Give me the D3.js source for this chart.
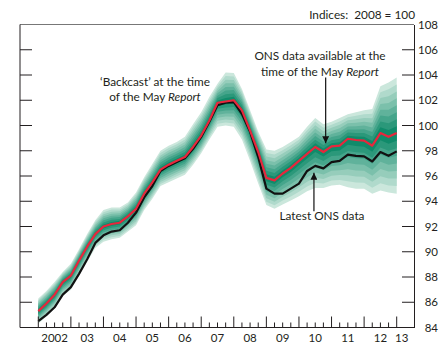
<!DOCTYPE html>
<html>
<head>
<meta charset="utf-8">
<script src="https://cdn.jsdelivr.net/npm/d3@7"></script>
<style>
  body { margin: 0; background: #fff; }
  svg { display: block; font-family: "Lato", "Open Sans", sans-serif; }
  .note { font-size: 11.8px; fill: #231f20; }
  .tick-label { font-size: 11.5px; fill: #231f20; }
</style>
</head>
<body>
<svg id="chart"></svg>
<script>
// quarterly data, 2002 Q1 to 2013 Q1
const startYear = 2002;
const yearLabels = ["2002", "03", "04", "05", "06", "07", "08", "09", "10", "11", "12", "13"];
const yTicks = [84, 86, 88, 90, 92, 94, 96, 98, 100, 102, 104, 106, 108];

const latestOns = [
  84.5, 85.0, 85.6, 86.6, 87.2, 88.25, 89.4, 90.7, 91.3, 91.6,
  91.7, 92.3, 93.1, 94.3, 95.2, 96.4, 96.8, 97.1, 97.4, 98.15,
  99.1, 100.3, 101.6, 101.8, 101.85, 100.9, 99.5, 97.5, 95.0, 94.6,
  94.6, 95.0, 95.4, 96.4, 96.8, 96.6, 97.1, 97.2, 97.7, 97.6,
  97.55, 97.15, 97.9, 97.6, 97.95
];

const mayBackcast = [
  85.3, 85.9, 86.6, 87.6, 88.1, 89.3, 90.4, 91.4, 92.0, 92.2,
  92.3, 92.8, 93.4, 94.6, 95.5, 96.5, 96.9, 97.2, 97.5, 98.3,
  99.2, 100.4, 101.8, 101.9, 102.0, 101.2, 99.6, 97.9, 95.85, 95.65,
  96.2, 96.65, 97.2, 97.75, 98.3, 97.9, 98.35, 98.4, 98.95, 98.85,
  98.8, 98.4, 99.4, 99.1, 99.4
];

// outer edge of the fan
const fanUpper = [
  86.3, 86.9, 87.6, 88.4, 89.05, 90.2, 91.4, 92.5, 93.3, 93.5,
  93.5, 93.9, 94.7, 95.9, 96.95, 98.0, 98.4, 98.7, 99.1, 100.1,
  101.05, 102.25, 103.3, 104.2, 104.15, 102.9, 101.2, 99.5, 98.1, 98.0,
  98.3, 98.7, 99.1, 99.9, 100.6, 100.1, 100.3, 100.6, 100.9, 101.05,
  101.2, 101.3, 103.1, 103.4, 103.8
];

const fanLower = [
  84.3, 84.9, 85.5, 86.5, 87.0, 88.1, 89.2, 90.3, 90.8, 91.0,
  91.1, 91.6, 92.1, 93.3, 94.2, 95.2, 95.5, 95.8, 96.1, 96.9,
  97.8, 98.9, 99.9, 100.0, 99.9, 98.9, 97.2, 95.4, 93.7, 93.4,
  93.75, 94.05, 94.4, 94.8, 95.05, 95.05, 95.25, 95.3, 95.1, 95.0,
  95.0, 94.6, 94.85, 94.7, 94.6
];

const chartSettings = {
  width: 441,
  height: 343,
  plotLeft: 20,
  plotRight: 414,
  plotTop: 24.5,
  plotBottom: 327.5,
  bands: 8
};

const svg = d3.select("#chart")
  .attr("width", chartSettings.width)
  .attr("height", chartSettings.height);

const dateOf = i => startYear + i / 4;

const x = d3.scaleLinear()
  .domain([2002, 2013])
  .range([38.3, 396.7]);

const y = d3.scaleLinear()
  .domain([84, 108])
  .range([chartSettings.plotBottom, chartSettings.plotTop]);

// fan bands, outermost first
const bandColor = d3.interpolateRgb("#cbe7dc", "#108b6a");
const bandIndex = d3.range(chartSettings.bands, 0, -1);

svg.append("g")
  .selectAll("path")
  .data(bandIndex)
  .join("path")
  .attr("fill", k => bandColor((chartSettings.bands - k) / (chartSettings.bands - 1)))
  .attr("d", k => {
    const f = k / chartSettings.bands;
    return d3.area()
      .x((d, i) => x(dateOf(i)))
      .y0((d, i) => y(d - (d - fanLower[i]) * f))
      .y1((d, i) => y(d + (fanUpper[i] - d) * f))
      (mayBackcast);
  });

const line = d3.line()
  .x((d, i) => x(dateOf(i)))
  .y(d => y(d));

svg.append("path")
  .datum(latestOns)
  .attr("fill", "none")
  .attr("stroke", "#111")
  .attr("stroke-width", 2.2)
  .attr("stroke-linejoin", "round")
  .attr("d", line);

svg.append("path")
  .datum(mayBackcast)
  .attr("fill", "none")
  .attr("stroke", "#e8263c")
  .attr("stroke-width", 2.2)
  .attr("stroke-linejoin", "round")
  .attr("d", line);

// frame
const { plotLeft, plotRight, plotTop, plotBottom } = chartSettings;
svg.append("line")
  .attr("x1", plotLeft).attr("x2", plotRight)
  .attr("y1", plotTop).attr("y2", plotTop)
  .attr("stroke", "#777").attr("stroke-width", 1);

svg.append("line")
  .attr("x1", plotLeft).attr("x2", plotLeft)
  .attr("y1", plotTop).attr("y2", plotBottom)
  .attr("stroke", "#231f20").attr("stroke-width", 1);

// right axis with labels
const yAxisRight = svg.append("g")
  .attr("transform", `translate(${plotRight},0)`)
  .call(d3.axisRight(y).tickValues(yTicks).tickSize(0).tickFormat(""));
yAxisRight.select(".domain").attr("stroke", "#231f20");

svg.append("g")
  .selectAll("line")
  .data(yTicks.slice(1, -1))
  .join("line")
  .attr("x1", plotRight - 12).attr("x2", plotRight)
  .attr("y1", d => y(d)).attr("y2", d => y(d))
  .attr("stroke", "#231f20");

svg.append("g")
  .selectAll("line")
  .data(yTicks.slice(1, -1))
  .join("line")
  .attr("x1", plotLeft).attr("x2", plotLeft + 12)
  .attr("y1", d => y(d)).attr("y2", d => y(d))
  .attr("stroke", "#231f20");

svg.append("g")
  .selectAll("text")
  .data(yTicks)
  .join("text")
  .attr("class", "tick-label")
  .attr("x", 438)
  .attr("y", d => y(d))
  .attr("dy", "0.35em")
  .attr("text-anchor", "end")
  .text(d => d);

// bottom axis
svg.append("line")
  .attr("x1", plotLeft).attr("x2", plotRight)
  .attr("y1", plotBottom).attr("y2", plotBottom)
  .attr("stroke", "#231f20");

const quarterTicks = d3.range(latestOns.length).map(dateOf);
svg.append("g")
  .selectAll("line")
  .data(quarterTicks)
  .join("line")
  .attr("x1", d => x(d)).attr("x2", d => x(d))
  .attr("y1", plotBottom)
  .attr("y2", (d, i) => plotBottom - (i % 4 === 0 ? 11 : 5))
  .attr("stroke", "#231f20");

svg.append("g")
  .selectAll("text")
  .data(yearLabels)
  .join("text")
  .attr("class", "tick-label")
  .attr("x", (d, i) => i < yearLabels.length - 1 ? x(startYear + i + 0.5) : x(startYear + i) + 5)
  .attr("y", 337.5)
  .attr("dy", "0.35em")
  .attr("text-anchor", "middle")
  .text(d => d);

// header
svg.append("text")
  .attr("class", "note")
  .attr("x", 415)
  .attr("y", 15)
  .attr("dy", "0.35em")
  .attr("text-anchor", "end")
  .attr("xml:space", "preserve")
  .text("Indices:  2008 = 100");

// annotations
function note(lines, cx, cy) {
  const t = svg.append("text")
    .attr("class", "note")
    .attr("text-anchor", "middle");
  lines.forEach((parts, i) => {
    const tl = t.append("tspan").attr("x", cx).attr("y", cy + i * 15.5);
    parts.forEach(([str, italic]) => {
      tl.append("tspan")
        .attr("font-style", italic ? "italic" : "normal")
        .text(str);
    });
  });
}

note([[["\u2018Backcast\u2019 at the time"]], [["of the May "], ["Report", true]]], 155, 85.5);
note([[["ONS data available at the"]], [["time of the May "], ["Report", true]]], 320, 60);
note([[["Latest ONS data"]]], 322, 220);

svg.append("defs").append("marker")
  .attr("id", "arrow")
  .attr("viewBox", "0 0 10 10")
  .attr("refX", 10).attr("refY", 5)
  .attr("markerWidth", 7).attr("markerHeight", 7)
  .attr("markerUnits", "userSpaceOnUse")
  .attr("orient", "auto")
  .append("path")
  .attr("d", "M0,0L10,5L0,10z")
  .attr("fill", "#111");

const arrows = [
  { date: 2010.82, from: 103.8, to: 98.6 },
  { date: 2010.46, from: 93.2, to: 96.25 }
];

svg.append("g")
  .selectAll("line")
  .data(arrows)
  .join("line")
  .attr("x1", d => x(d.date)).attr("x2", d => x(d.date))
  .attr("y1", d => y(d.from))
  .attr("y2", d => y(d.to))
  .attr("stroke", "#111")
  .attr("stroke-width", 1.2)
  .attr("marker-end", "url(#arrow)");
</script>
</body>
</html>
